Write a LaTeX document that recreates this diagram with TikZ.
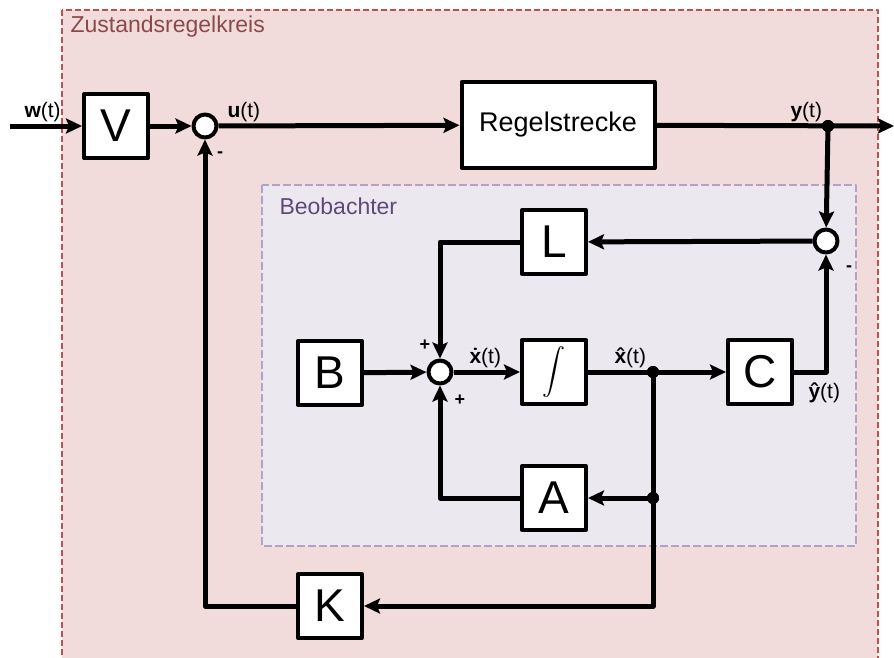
\documentclass[tikz,border=0pt]{standalone}
\usepackage{fontspec}
\setmainfont{Liberation Sans}
\usetikzlibrary{arrows.meta,calc,positioning}
\definecolor{kreisfill}{HTML}{F2DCDB}
\definecolor{kreisline}{HTML}{C0504D}
\definecolor{kreistext}{HTML}{8B4A4A}
\definecolor{beobfill}{HTML}{ECE8F0}
\definecolor{beobline}{HTML}{B3A2C7}
\definecolor{beobtext}{HTML}{60497A}
\tikzset{blk/.style={draw,line width=4pt,fill=white,minimum width=64pt,minimum height=64pt,inner sep=0pt,font=\fontsize{46}{50}\selectfont},
  sumpt/.style={circle,draw,line width=4pt,fill=white,minimum size=23pt,inner sep=0pt},
  dotpt/.style={circle,fill,inner sep=0pt,minimum size=12pt},
  lbl/.style={anchor=base west,font=\fontsize{21}{24}\selectfont},
  sgn/.style={font=\fontsize{18}{20}\selectfont\bfseries}}
\newcommand{\hatx}{\textbf{\ooalign{x\cr\hidewidth\char"02C6\hidewidth}}}
\begin{document}
\begin{tikzpicture}[x=1pt,y=-1pt,line join=round,
  sig/.style={line width=5pt,-{Stealth[length=16pt,width=15pt,inset=3pt]}}]
\useasboundingbox (0,0) rectangle (894,657);
% --- frames
\filldraw[kreisfill,draw=kreisline,line width=1.5pt,dash pattern=on 6pt off 3pt] (62,10) rectangle (878,675);
\node[kreistext,anchor=west,font=\fontsize{23}{26}\selectfont] at (67,27) {Zustandsregelkreis};
\filldraw[beobfill,draw=beobline,line width=2pt,dash pattern=on 8pt off 3pt] (262,185) rectangle (856,546);
\node[beobtext,anchor=west,font=\fontsize{23}{26}\selectfont] at (276,206) {Beobachter};
% --- blocks
\node[blk] (V) at (116,126) {V};
\node[sumpt] (s1) at (205,126) {};
\node[blk,minimum width=193pt,minimum height=86pt,font=\fontsize{27}{30}\selectfont] (P) at (558,125) {Regelstrecke};
\node[dotpt] (jy) at (828,126) {};
\coordinate (in) at (10,126);
\coordinate (out) at (894,126);
\node[sumpt] (s2) at (826,241) {};
\node[blk] (L) at (554,242) {L};
\node[blk] (B) at (330,373) {B};
\node[sumpt] (s3) at (440,372) {};
\node[blk] (I) at (554,372) {\scalebox{2.3}{$\displaystyle\int$}};
\node[dotpt] (jx) at (653,372) {};
\node[blk] (C) at (760,372) {C};
\node[blk] (A) at (554,498) {A};
\node[dotpt] (ja) at (653,498) {};
\node[blk] (K) at (330,606) {K};
% --- signals
\draw[sig] (in) -- (V);
\draw[sig] (V) -- (s1);
\draw[sig] (s1) -- (P);
\draw[sig] (P) -- (out);
\draw[sig] (jy.center) -- (s2);
\draw[sig] (s2) -- (L);
\draw[sig] (L.west) -| (s3.north);
\draw[sig] (B) -- (s3);
\draw[sig] (s3) -- (I);
\draw[sig] (I) -- (C);
\draw[sig] (C.east) -| (s2.south);
\draw[line width=5pt] (jx.center) -- (ja.center);
\draw[sig] (ja.center) -- (A);
\draw[sig] (A.west) -| (s3.south);
\draw[sig] (ja.center) |- (K.east);
\draw[sig] (K.west) -| (s1.south);
\fill (jy) circle (6pt) (jx) circle (6pt) (ja) circle (6pt);
% --- labels
\node[lbl] at (21,117) {\textbf{w}(t)};
\node[lbl] at (224,117) {\textbf{u}(t)};
\node[lbl] at (787,117) {\textbf{y}(t)};
\node[lbl] at (466,363) {\textbf{\.x}(t)};
\node[lbl] at (611,363) {\hatx(t)};
\node[lbl] at (805,398) {\textbf{\^y}(t)};
\node[sgn] at (220,155) {-};
\node[sgn] at (849,269) {-};
\node[sgn] at (425,345) {+};
\node[sgn] at (460,400) {+};
\end{tikzpicture}
\end{document}
